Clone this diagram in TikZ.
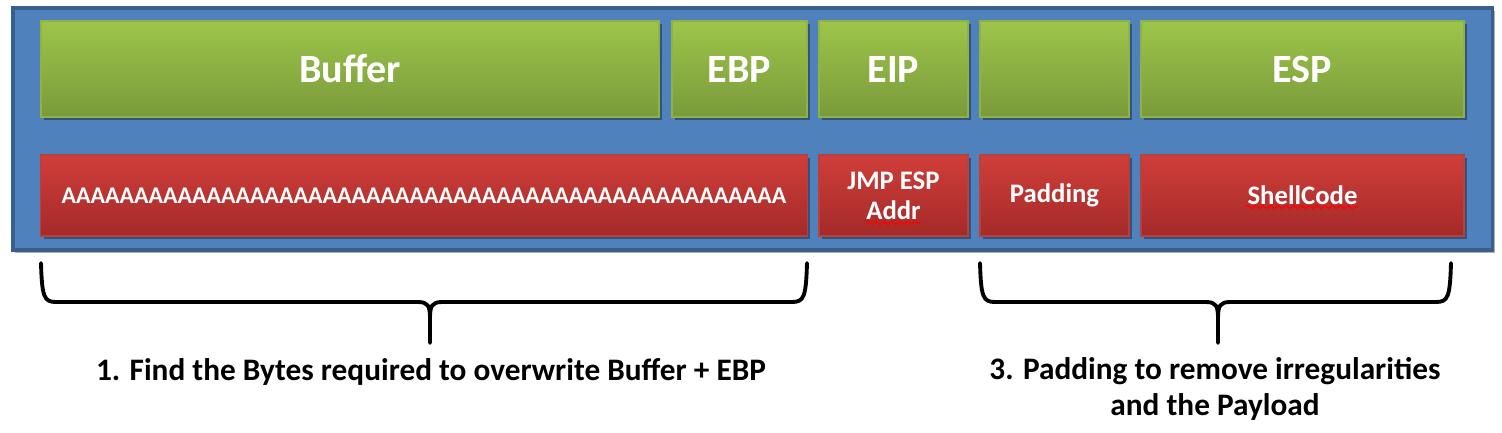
\documentclass[tikz,border=0pt]{standalone}
\usepackage{fontspec}
\setmainfont{Carlito}
\usetikzlibrary{shadows,decorations.pathmorphing}
\definecolor{frameblue}{HTML}{4F81BD}
\definecolor{frameedge}{HTML}{3A5F8C}
\definecolor{gtop}{HTML}{9DC54A}
\definecolor{gbot}{HTML}{7A9A3B}
\definecolor{gedge}{HTML}{8DB347}
\definecolor{rtop}{HTML}{D03E3A}
\definecolor{rbot}{HTML}{A32A29}
\definecolor{redge}{HTML}{B8403D}
\tikzset{
  cell/.style={rectangle, inner sep=0pt, text=white, line width=0.4pt,
    drop shadow={shadow xshift=0.9pt, shadow yshift=-0.9pt, opacity=0.35, fill=black}},
  greencell/.style={cell, top color=gtop, bottom color=gbot, draw=gedge,
    minimum height=0.96cm, font=\bfseries\fontsize{11.4}{13}\selectfont},
  redcell/.style={cell, top color=rtop, bottom color=rbot, draw=redge,
    minimum height=0.81cm, font=\bfseries\fontsize{7.6}{8.5}\selectfont, align=center},
  framebox/.style={rectangle, inner sep=0pt, fill=frameblue, draw=frameedge, line width=1.1pt,
    minimum width=14.79cm, minimum height=2.42cm,
    drop shadow={shadow xshift=0.8pt, shadow yshift=-0.8pt, opacity=0.3, fill=black}},
  brace/.style={draw=black, line width=1.1pt, line cap=round, line join=round},
  caption/.style={font=\bfseries\fontsize{8.9}{10.3}\selectfont, text=black, align=center, inner sep=0pt},
  spell/.style={draw=red, line width=0.35pt, decorate,
    decoration={snake, amplitude=0.45pt, segment length=2.2pt}}
}
\begin{document}
\begin{tikzpicture}[x=0.01cm, y=-0.01cm]
\useasboundingbox (0,0) rectangle (1502,432);
\node[framebox] (frame) at (752.5,129) {};
% top row
\node[greencell, minimum width=6.18cm] (buffer) at (350,69) {Buffer};
\node[greencell, minimum width=1.35cm] (ebp) at (739.5,69) {EBP};
\node[greencell, minimum width=1.49cm] (eip) at (893.5,69) {EIP};
\node[greencell, minimum width=1.49cm] (blank) at (1054.5,69) {};
\node[greencell, minimum width=3.23cm] (esp) at (1302.5,69) {ESP};
% bottom row
\node[redcell, minimum width=7.66cm, font=\bfseries\fontsize{6.8}{8}\selectfont] (aaa) at (424,195.5) {AAAAAAAAAAAAAAAAAAAAAAAAAAAAAAAAAAAAAAAAAAAAAAAAAA};
\node[redcell, minimum width=1.49cm] (jmp) at (893.5,195.5) {JMP ESP\\Addr};
\node[redcell, minimum width=1.49cm] (pad) at (1054.5,195.5) {Padding};
\node[redcell, minimum width=3.23cm] (shell) at (1302.5,195.5) {ShellCode};
% spell-check squiggles
\coordinate (addrA) at (866,223);
\coordinate (addrB) at (921,223);
\coordinate (shellA) at (1245,207);
\coordinate (shellB) at (1358,207);
\draw[spell] (addrA) -- (addrB);
\draw[spell] (shellA) -- (shellB);
% braces
\coordinate (b1l) at (41,263);
\coordinate (b1r) at (807,263);
\coordinate (b1t) at (430,343);
\coordinate (b3l) at (980,263);
\coordinate (b3r) at (1451,263);
\coordinate (b3t) at (1218,343);
\draw[brace] (b1l) .. controls (42,297) and (44,302) .. (56,302) -- (418,302)
  .. controls (428,302) and (430,306) .. (430,318) -- (b1t);
\draw[brace] (430,318) .. controls (430,306) and (432,302) .. (442,302) -- (792,302)
  .. controls (804,302) and (806,297) .. (b1r);
\draw[brace] (b3l) .. controls (981,297) and (983,302) .. (995,302) -- (1206,302)
  .. controls (1216,302) and (1218,306) .. (1218,318) -- (b3t);
\draw[brace] (1218,318) .. controls (1218,306) and (1220,302) .. (1230,302) -- (1436,302)
  .. controls (1448,302) and (1450,297) .. (b3r);
% captions
\node[caption] (cap1) at (431,372) {1. Find the Bytes required to overwrite Buffer + EBP};
\node[caption] (cap3) at (1215,389) {3. Padding to remove irregularities\\and the Payload};
\end{tikzpicture}
\end{document}
